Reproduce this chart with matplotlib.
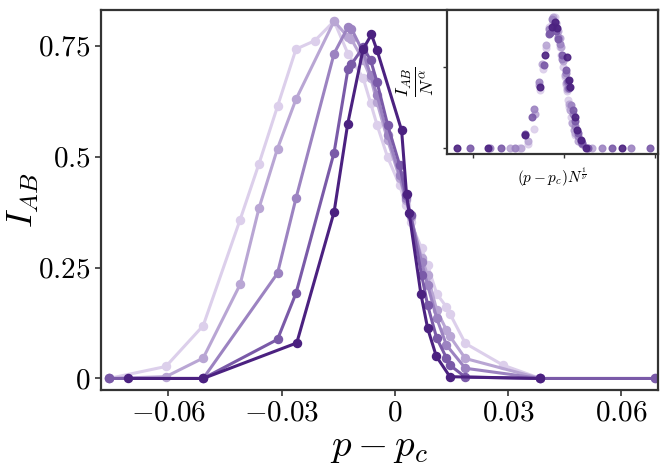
import numpy as np
import matplotlib
matplotlib.use("Agg")
import matplotlib.pyplot as plt

plt.rcParams["mathtext.fontset"] = "cm"
plt.rcParams["font.family"] = "serif"
plt.rcParams["font.serif"] = ["cmr10", "DejaVu Serif"]
plt.rcParams["axes.unicode_minus"] = False

# series 1 (lightest)
x1 = [-0.0758, -0.0607, -0.0508, -0.0410, -0.0360, -0.0311, -0.0262,
      -0.0212, -0.0161, -0.0124, -0.0084, -0.0064, -0.0047, -0.0019,
      0.0013, 0.0029, 0.0042, 0.0071, 0.0087, 0.0111, 0.0137, 0.0146,
      0.0187, 0.0287, 0.0386]
y1 = [0.0, 0.027, 0.119, 0.358, 0.484, 0.613, 0.742, 0.761, 0.805, 0.731,
      0.677, 0.620, 0.571, 0.498, 0.435, 0.390, 0.352, 0.293, 0.255, 0.191,
      0.161, 0.146, 0.079, 0.030, 0.0]

# series 2
x2 = [-0.0758, -0.0607, -0.0508, -0.0410, -0.0360, -0.0311, -0.0262,
      -0.0161, -0.0124, -0.0115, -0.0084, -0.0064, -0.0047, -0.0019,
      0.0013, 0.0029, 0.0042, 0.0071, 0.0087, 0.0111, 0.0137, 0.0146,
      0.0187, 0.0386]
y2 = [0.0, 0.004, 0.046, 0.212, 0.384, 0.518, 0.629, 0.805, 0.769, 0.764,
      0.717, 0.677, 0.622, 0.537, 0.451, 0.402, 0.363, 0.271, 0.233, 0.154,
      0.109, 0.095, 0.045, 0.0]

# series 3
x3 = [-0.0758, -0.0508, -0.0311, -0.0262, -0.0161, -0.0124, -0.0115,
      -0.0084, -0.0064, -0.0047, -0.0019, 0.0013, 0.0029, 0.0042, 0.0071,
      0.0087, 0.0111, 0.0137, 0.0187, 0.0386, 0.0689]
y3 = [0.0, 0.0, 0.237, 0.406, 0.732, 0.792, 0.788, 0.735, 0.683, 0.638,
      0.548, 0.458, 0.406, 0.368, 0.262, 0.210, 0.136, 0.075, 0.023, 0.0, 0.0]

# series 4
x4 = [-0.0758, -0.0508, -0.0311, -0.0262, -0.0161, -0.0124, -0.0115,
      -0.0084, -0.0064, -0.0047, -0.0019, 0.0013, 0.0029, 0.0042, 0.0071,
      0.0087, 0.0111, 0.0137, 0.0146, 0.0187, 0.0386, 0.0689]
y4 = [0.0, 0.0, 0.088, 0.192, 0.509, 0.698, 0.708, 0.746, 0.717, 0.667,
      0.571, 0.480, 0.413, 0.368, 0.233, 0.165, 0.091, 0.046, 0.030, 0.003,
      0.0, 0.0]

# series 5 (darkest, largest system)
x5 = [-0.0707, -0.0508, -0.0260, -0.0161, -0.0125, -0.0084, -0.0062,
      -0.0047, 0.0018, 0.0031, 0.0038, 0.0069, 0.0087, 0.0110, 0.0146,
      0.0384]
y5 = [0.0, 0.0, 0.080, 0.375, 0.573, 0.742, 0.775, 0.739, 0.559, 0.415,
      0.373, 0.191, 0.113, 0.050, 0.004, 0.0]

# N^(1/nu) for each system, used for the collapse in the inset
size_factors = [6.5, 7.8, 10.7, 13.7, 16.6]

colors = ["#dccfeb", "#b9a6d4", "#9c83c1", "#7a5aa8", "#4b2180"]

xs = [x1, x2, x3, x4, x5]
ys = [y1, y2, y3, y4, y5]

fig = plt.figure(figsize=(6.7, 4.72), dpi=100)
ax = fig.add_axes([0.1507, 0.1737, 0.831, 0.805])

for x, y, c in zip(xs, ys, colors):
    ax.plot(x, y, "-o", color=c, lw=2.2, ms=5.8)

ax.set_xlim(-0.0779, 0.0697)
ax.set_ylim(-0.026, 0.830)
ax.set_xticks([-0.06, -0.03, 0, 0.03, 0.06])
ax.set_xticklabels([r"$-0.06$", r"$-0.03$", r"$0$", r"$0.03$", r"$0.06$"])
ax.set_yticks([0, 0.25, 0.5, 0.75])
ax.set_yticklabels([r"$0$", r"$0.25$", r"$0.5$", r"$0.75$"])
ax.tick_params(labelsize=21, direction="out", length=4, width=1.2,
               color="#333333")
ax.set_xlabel(r"$p - p_c$", fontsize=28, labelpad=2)
ax.set_ylabel(r"$I_{AB}$", fontsize=26)
ax.yaxis.set_label_coords(-0.108, 0.5)
for s in ax.spines.values():
    s.set_color("#333333")
    s.set_linewidth(1.6)

# inset: finite-size collapse
ins = fig.add_axes([0.667, 0.674, 0.315, 0.305])
for x, y, c, f in zip(xs, ys, colors, size_factors):
    ins.plot(np.array(x) * f, y, "o", color=c, ms=4.8, alpha=0.9)
ins.set_xlim(-1.29, 1.03)
ins.set_ylim(-0.035, 0.847)
ins.set_xticks([-1, 0, 1])
ins.set_yticks([0, 0.5])
ins.set_xticklabels([])
ins.set_yticklabels([])
ins.tick_params(direction="out", length=3, width=1, color="#333333")
ins.set_xlabel(r"$(p - p_c)N^{\frac{1}{\nu}}$", fontsize=11, labelpad=2)
ins.set_ylabel(r"$\frac{I_{AB}}{N^{\alpha}}$", fontsize=19, labelpad=1)
for s in ins.spines.values():
    s.set_color("#333333")
    s.set_linewidth(1.6)

fig.savefig("out.png", dpi=100)
